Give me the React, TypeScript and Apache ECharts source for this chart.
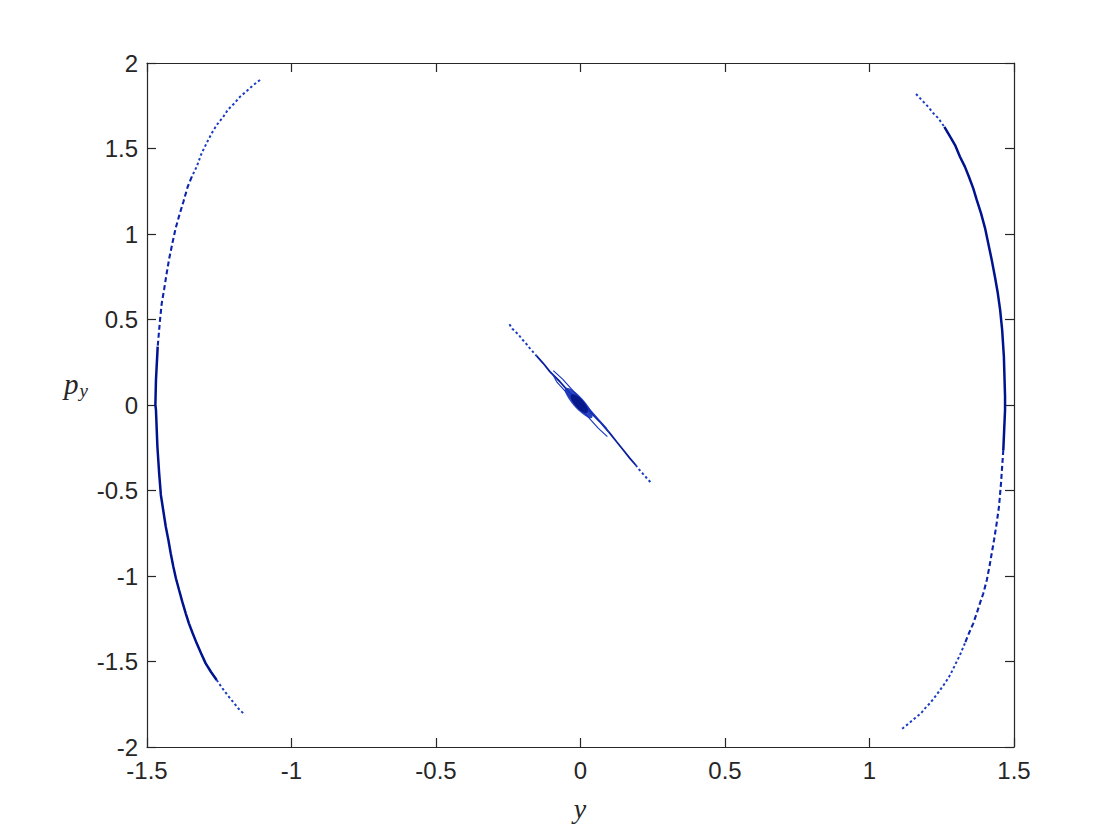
import React, { useEffect, useRef } from "react";
import * as echarts from "echarts";

// Left arc (y, p_y), top to bottom
const leftArc: [number, number][] = [
  [-1.109, 1.901], [-1.132, 1.871], [-1.155, 1.836], [-1.178, 1.803], [-1.198, 1.764],
  [-1.219, 1.729], [-1.236, 1.686], [-1.259, 1.637], [-1.276, 1.589], [-1.293, 1.534],
  [-1.311, 1.472], [-1.328, 1.394], [-1.345, 1.335], [-1.359, 1.277], [-1.374, 1.189],
  [-1.388, 1.111], [-1.401, 1.033], [-1.411, 0.955], [-1.423, 0.858], [-1.432, 0.770],
  [-1.441, 0.673], [-1.449, 0.595], [-1.455, 0.497], [-1.463, 0.341], [-1.469, 0.146],
  [-1.471, 0.0], [-1.469, -0.029], [-1.464, -0.244], [-1.458, -0.398], [-1.452, -0.526],
  [-1.444, -0.614], [-1.435, -0.712], [-1.426, -0.789], [-1.418, -0.867], [-1.409, -0.945],
  [-1.400, -1.013], [-1.389, -1.082], [-1.378, -1.150], [-1.366, -1.218], [-1.355, -1.277],
  [-1.342, -1.335], [-1.328, -1.394], [-1.313, -1.452], [-1.297, -1.511], [-1.279, -1.560],
  [-1.259, -1.608], [-1.239, -1.657], [-1.219, -1.702], [-1.198, -1.745], [-1.182, -1.778],
  [-1.161, -1.813],
];

// Right arc (y, p_y), top to bottom
const rightArc: [number, number][] = [
  [1.161, 1.819], [1.186, 1.774], [1.203, 1.744], [1.221, 1.706], [1.238, 1.677],
  [1.259, 1.627], [1.279, 1.569], [1.296, 1.520], [1.313, 1.452], [1.330, 1.394],
  [1.344, 1.335], [1.359, 1.267], [1.371, 1.199], [1.386, 1.121], [1.400, 1.033],
  [1.411, 0.945], [1.423, 0.848], [1.434, 0.750], [1.444, 0.653], [1.452, 0.556],
  [1.459, 0.439], [1.465, 0.282], [1.469, 0.049], [1.469, -0.029], [1.463, -0.263],
  [1.455, -0.458], [1.448, -0.595], [1.440, -0.692], [1.431, -0.789], [1.423, -0.867],
  [1.415, -0.945], [1.406, -1.023], [1.394, -1.101], [1.382, -1.160], [1.371, -1.218],
  [1.359, -1.277], [1.344, -1.335], [1.330, -1.394], [1.313, -1.462], [1.296, -1.520],
  [1.279, -1.579], [1.261, -1.627], [1.244, -1.667], [1.227, -1.706], [1.209, -1.744],
  [1.192, -1.774], [1.178, -1.803], [1.157, -1.832], [1.134, -1.865], [1.111, -1.896],
];

// Central line (y, p_y)
const centerLine: [number, number][] = [
  [-0.246, 0.472], [-0.235, 0.444], [-0.215, 0.413], [-0.203, 0.386], [-0.189, 0.361],
  [-0.175, 0.331], [-0.152, 0.287], [-0.129, 0.244], [-0.106, 0.195], [-0.071, 0.136],
  [-0.036, 0.068], [-0.002, 0.010], [0.033, -0.039], [0.067, -0.098], [0.102, -0.166],
  [0.125, -0.215], [0.148, -0.263], [0.171, -0.312], [0.191, -0.351], [0.202, -0.376],
  [0.217, -0.404], [0.232, -0.433], [0.246, -0.458],
];

const sideA: [number, number][] = [
  [-0.094, 0.201], [-0.062, 0.151], [-0.037, 0.104], [0.038, -0.038],
  [0.063, -0.085], [0.088, -0.132], [0.098, -0.160],
];
const sideB: [number, number][] = [
  [-0.098, 0.186], [-0.083, 0.137], [-0.058, 0.090], [0.037, -0.090],
  [0.062, -0.137], [0.093, -0.185],
];

// Dense oscillation blob near the origin (centre points)
const blobOuter: [number, number][] = [[-0.006, 0.012]];
const blobInner: [number, number][] = [[-0.004, 0.008]];

const xTicks = [-1.5, -1, -0.5, 0, 0.5, 1, 1.5];
const yTicks = [-2, -1.5, -1, -0.5, 0, 0.5, 1, 1.5, 2];

const DENSE = { color: "#00138f", width: 2.5, type: "solid" as any };
const DASHED = { color: "#0a24ad", width: 2.1, type: [5, 3] as any };
const DOTTED = { color: "#1a3cc0", width: 2, type: [2.5, 2.5] as any };

function seg(data: [number, number][], a: number, b: number, style: any) {
  return {
    type: "line",
    data: data.slice(a, b + 1),
    showSymbol: false,
    symbol: "none",
    lineStyle: style,
    silent: true,
    z: 3,
  };
}

export default function App() {
  const ref = useRef<HTMLDivElement>(null);
  useEffect(() => {
    if (!ref.current) return;
    const chart = echarts.init(ref.current, undefined, { renderer: "svg" });
    const axisColor = "#262626";
    const labelFont = "Liberation Sans, Arial, Helvetica, sans-serif";
    const serif = "Liberation Serif, DejaVu Serif, serif";
    const baseX = {
      type: "value",
      min: xTicks[0],
      max: xTicks[xTicks.length - 1],
      interval: 0.5,
      splitLine: { show: false },
      axisLine: { show: true, onZero: false, lineStyle: { color: axisColor, width: 1.2 } },
      axisTick: { show: true, inside: true, length: 9, lineStyle: { color: axisColor, width: 1.2 } },
    };
    const baseY = {
      type: "value",
      min: yTicks[0],
      max: yTicks[yTicks.length - 1],
      interval: 0.5,
      splitLine: { show: false },
      axisLine: { show: true, onZero: false, lineStyle: { color: axisColor, width: 1.2 } },
      axisTick: { show: true, inside: true, length: 9, lineStyle: { color: axisColor, width: 1.2 } },
    };
    chart.setOption({
      animation: false,
      backgroundColor: "#ffffff",
      grid: { left: 147, right: 106, top: 63, bottom: 93, containLabel: false },
      xAxis: [
        {
          ...baseX,
          position: "bottom",
          axisLabel: { fontSize: 24, color: axisColor, fontFamily: labelFont, margin: 11 },
        },
        { ...baseX, position: "top", axisLabel: { show: false } },
      ],
      yAxis: [
        {
          ...baseY,
          position: "left",
          axisLabel: { fontSize: 24, color: axisColor, fontFamily: labelFont, margin: 9 },
        },
        { ...baseY, position: "right", axisLabel: { show: false } },
      ],
      graphic: [
        {
          type: "text",
          x: 580,
          y: 808,
          silent: true,
          style: {
            text: "y",
            fontFamily: serif,
            fontStyle: "italic",
            fontSize: 28,
            fill: axisColor,
            align: "center",
            verticalAlign: "middle",
          },
        },
        {
          type: "text",
          left: 64,
          top: 369,
          silent: true,
          style: {
            text: "{p|p}{s|y}",
            rich: {
              p: { fontFamily: serif, fontStyle: "italic", fontSize: 29, fill: axisColor },
              s: { fontFamily: serif, fontStyle: "italic", fontSize: 19, fill: axisColor, padding: [13, 0, 0, 1] },
            },
          },
        },
      ],
      series: [
        seg(leftArc, 0, 12, DOTTED),
        seg(leftArc, 12, 23, DASHED),
        seg(leftArc, 23, 45, DENSE),
        seg(leftArc, 45, 50, DOTTED),
        seg(rightArc, 0, 5, DOTTED),
        seg(rightArc, 5, 24, DENSE),
        seg(rightArc, 24, 37, DASHED),
        seg(rightArc, 37, 49, DOTTED),
        seg(centerLine, 0, 6, DOTTED),
        seg(centerLine, 6, 18, { color: "#0a1f9e", width: 1.8, type: "solid" }),
        seg(centerLine, 18, 22, DOTTED),
        seg(sideA, 0, sideA.length - 1, { color: "#1a3ac0", width: 1.2, type: "solid" }),
        seg(sideB, 0, sideB.length - 1, { color: "#1a3ac0", width: 1.2, type: "solid" }),
        {
          type: "scatter",
          data: blobOuter,
          symbol: "circle",
          symbolSize: [40, 11],
          symbolRotate: -48,
          itemStyle: { color: "#1530b8", opacity: 0.9 },
          silent: true,
          z: 4,
        },
        {
          type: "scatter",
          data: blobInner,
          symbol: "circle",
          symbolSize: [24, 9],
          symbolRotate: -48,
          itemStyle: { color: "#00107f" },
          silent: true,
          z: 5,
        },
      ],
    });
    return () => chart.dispose();
  }, []);
  return (
    <div
      ref={ref}
      style={{ position: "fixed", left: 0, top: 0, width: 1120, height: 840, background: "#fff" }}
    />
  );
}
